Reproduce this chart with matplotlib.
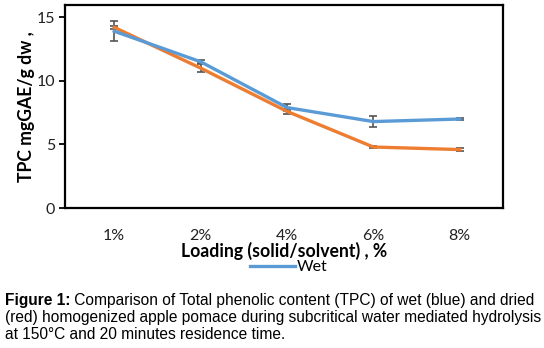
import matplotlib.pyplot as plt

# data
loading = ['1%', '2%', '4%', '6%', '8%']
wet = [13.9, 11.5, 7.9, 6.8, 7.0]
dried = [14.2, 11.0, 7.6, 4.8, 4.6]
wet_err = [0.8, 0.1, 0.3, 0.4, 0.05]
dried_err = [0.1, 0.3, 0.2, 0.1, 0.1]

blue = '#5B9BD5'
orange = '#ED7D31'

fig = plt.figure(figsize=(5.44, 3.48), dpi=100)
ax = fig.add_axes([0.1195, 0.402, 0.805, 0.584])

x = list(range(len(loading)))

# error bars sit behind the lines
ax.errorbar(x, wet, yerr=wet_err, fmt='none', ecolor='#555555', elinewidth=1.2,
            capsize=3, capthick=1.2, zorder=1)
ax.errorbar(x, dried, yerr=dried_err, fmt='none', ecolor='#555555', elinewidth=1.2,
            capsize=3, capthick=1.2, zorder=1)
ax.plot(x, dried, color=orange, lw=2.4, zorder=2)
ax.plot(x, wet, color=blue, lw=2.4, zorder=3, label='Wet')

ax.set_xlim(-0.57, 4.5)
ax.set_ylim(0, 15.97)
ax.set_yticks([0, 5, 10, 15])
ax.set_xticks(x)
ax.set_xticklabels(loading)

for s in ax.spines.values():
    s.set_linewidth(1.6)
    s.set_color('black')

ax.tick_params(axis='x', length=0, pad=15, labelsize=11.5)
ax.tick_params(axis='y', length=4, width=1.3, direction='out', pad=3, labelsize=11.5)
for lab in ax.get_xticklabels() + ax.get_yticklabels():
    lab.set_family('Lato')
    lab.set_color('#222222')

ax.set_ylabel('TPC mgGAE/g dw ,', fontsize=12.7, fontweight='bold', family='Lato', labelpad=1)
ax.set_xlabel('Loading (solid/solvent) , %', fontsize=12.7, fontweight='bold', family='Lato', labelpad=-1)

fig.legend(loc='center left', bbox_to_anchor=(250 / 544, (348 - 267) / 348), frameon=False,
           prop={'family': 'Lato', 'size': 11.5}, handlelength=2.8,
           handletextpad=0.1, borderaxespad=0, borderpad=0)

# caption below the chart
cap_size = 11.2
cap_font = 'Liberation Sans'
t1 = fig.text(0.009, 0.1236, 'Figure 1:', fontsize=cap_size, fontweight='bold',
              family=cap_font, va='baseline')
ax.annotate(' Comparison of Total phenolic content (TPC) of wet (blue) and dried',
            xy=(1, 0), xycoords=t1, va='bottom', ha='left',
            fontsize=cap_size, family=cap_font, annotation_clip=False)
fig.text(0.009, 0.0747, '(red) homogenized apple pomace during subcritical water mediated hydrolysis',
         fontsize=cap_size, family=cap_font, va='baseline')
fig.text(0.009, 0.0259, 'at 150°C and 20 minutes residence time.',
         fontsize=cap_size, family=cap_font, va='baseline')

fig.savefig('out.png', dpi=100)
